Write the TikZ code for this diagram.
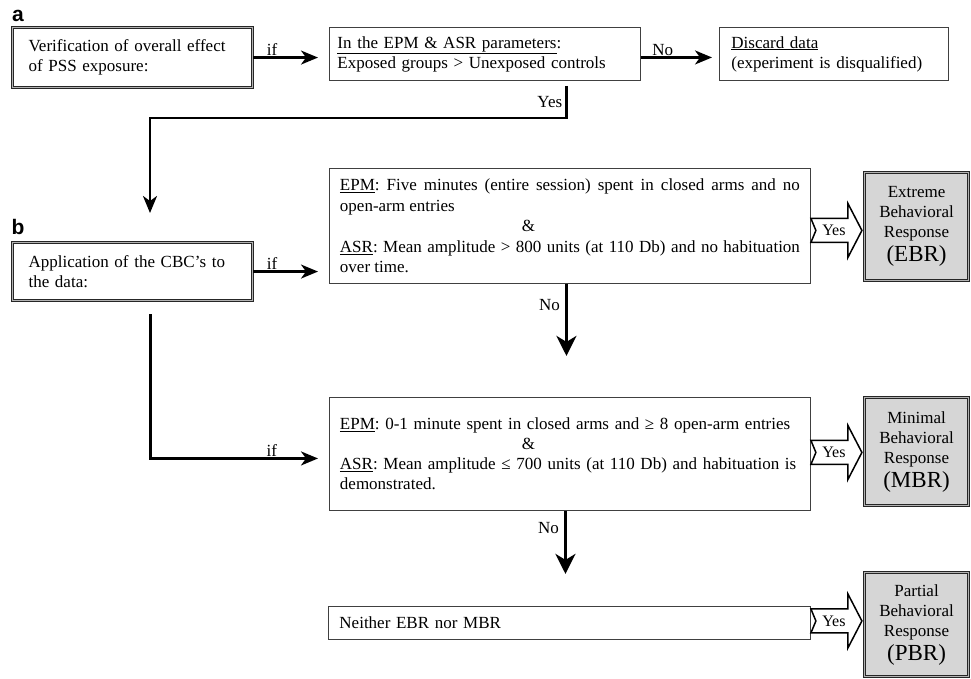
\documentclass[tikz,border=0pt]{standalone}
\usepackage{fontspec}
\setmainfont{Liberation Serif}
\setsansfont{Liberation Sans}
\usetikzlibrary{arrows.meta,calc}
\definecolor{boxgray}{RGB}{214,214,214}
\frenchspacing
\begin{document}
\begin{tikzpicture}[x=1pt,y=-1pt,
  txt/.style={font=\fontsize{17}{20}\selectfont},
  box/.style={txt, draw=black!75, line width=0.9pt, fill=white, inner sep=0pt, anchor=north west},
  dbl/.style={draw=black!85, line width=1.1pt, double=black!30, double distance=0.8pt},
  resbox/.style={box, dbl, fill=boxgray, minimum width=104, text width=100, align=center},
  conn/.style={line width=2.2pt, -{Stealth[length=17pt,width=14pt,inset=5pt]}},
  bigconn/.style={line width=3pt, -{Stealth[length=20pt,width=20pt,inset=6pt]}},
  lbl/.style={txt, inner sep=1pt},
  panel/.style={font=\sffamily\bfseries\fontsize{21}{21}\selectfont, inner sep=0pt},
  yesarrow/.pic={
    \draw[line width=1.5pt, fill=white, line join=miter]
      (0,-12) -- (37,-12) -- (37,-27) -- (51,0) -- (37,27) -- (37,12) -- (0,12) -- (5,0) -- cycle;
    \node[lbl, font=\fontsize{16}{16}\selectfont] (-t) at (23,0) {Yes};
  }
]
\useasboundingbox (0,0) rectangle (971,678);

% panel labels
\node[panel] (pa) at (18,16) {a};
\node[panel] (pb) at (18,227) {b};

% part a
\node[box, dbl, minimum width=240, minimum height=60, text width=208, align=left] (A1) at (12,27)
  {Verification of overall effect\\of PSS exposure:};
\node[box, minimum width=311, minimum height=53, text width=295, align=left] (A2) at (329,27)
  {\underline{In the EPM \& ASR parameters}:\\Exposed groups > Unexposed controls};
\node[box, minimum width=229, minimum height=53, text width=205, align=left] (A3) at (719,27)
  {\underline{Discard data}\\(experiment is disqualified)};

% part b
\node[box, dbl, minimum width=240, minimum height=58, text width=208, align=left] (B1) at (12,242)
  {Application of the CBC's to\\the data:};
\node[box, minimum width=481, minimum height=115, text width=460, align=justify, font=\fontsize{17}{20.5}\selectfont] (B2) at (329,168)
  {\underline{EPM}: Five minutes (entire session) spent in closed arms and no\linebreak open-arm entries\par
   \hspace*{182pt}\&\par
   \underline{ASR}: Mean amplitude > 800 units (at 110 Db) and no habituation\linebreak over time.};
\node[box, minimum width=481, minimum height=113, text width=460, align=left] (B3) at (329,397)
  {\underline{EPM}: 0-1 minute spent in closed arms and ≥ 8 open-arm entries\\
   \hspace*{182pt}\&\\
   \underline{ASR}: Mean amplitude ≤ 700 units (at 110 Db) and habituation is\\
   demonstrated.};
\node[box, minimum width=482, minimum height=33, text width=460, align=left] (B4) at (328,606)
  {Neither EBR nor MBR};

\node[resbox, minimum height=108] (EBR) at (864,172)
  {Extreme\\Behavioral\\Response\\[4pt]{\fontsize{23}{24}\selectfont(EBR)}};
\node[resbox, minimum height=108] (MBR) at (864,397)
  {Minimal\\Behavioral\\Response\\[4pt]{\fontsize{23}{24}\selectfont(MBR)}};
\node[resbox, minimum height=104] (PBR) at (864,572)
  {Partial\\Behavioral\\Response\\[4pt]{\fontsize{23}{24}\selectfont(PBR)}};

% connectors part a
\draw[conn, shorten >=11pt] (A1.east) -- (A1.east -| A2.west)
  node[lbl, pos=0.25, above] (ifa) {if};
\draw[conn, shorten >=7pt] ([yshift=-3.5pt]A2.east) -- ([yshift=-3.5pt]A3.west)
  node[lbl, pos=0.28, above] (noa) {No};
\coordinate (yesEnd) at (150,213);
\draw[conn, line width=2.5pt] ([xshift=81.5pt,yshift=-5pt]A2.south)
  -- node[lbl, left=2pt] (yesa) {Yes} ++(0,32) -| (yesEnd);

% connectors part b
\draw[conn, shorten >=11pt] (B1.east) -- (B1.east -| B2.west)
  node[lbl, pos=0.25, above] (ifb) {if};
\draw[conn, line width=2.4pt, shorten <=13pt, shorten >=11pt]
  ([xshift=18pt]B1.south) |- ([yshift=-4.5pt]B3.west)
  node[lbl, pos=0.84, above] (ifc) {if};
\draw[bigconn] ([xshift=-3.5pt]B2.south) -- node[lbl, left=4pt, pos=0.3] (nob) {No} ++(0,72);
\draw[bigconn] ([xshift=-4.5pt]B3.south) -- node[lbl, left=4pt, pos=0.27] (noc) {No} ++(0,63);

% yes block arrows
\coordinate (ye) at ($(B2.east)+(0,4.5)$);
\coordinate (ym) at ($(B3.east)+(0,-1.5)$);
\coordinate (yp) at ($(B4.east)+(0,-2)$);
\pic (yE) at (ye) {yesarrow};
\pic (yM) at (ym) {yesarrow};
\pic (yP) at (yp) {yesarrow};
\end{tikzpicture}
\end{document}
